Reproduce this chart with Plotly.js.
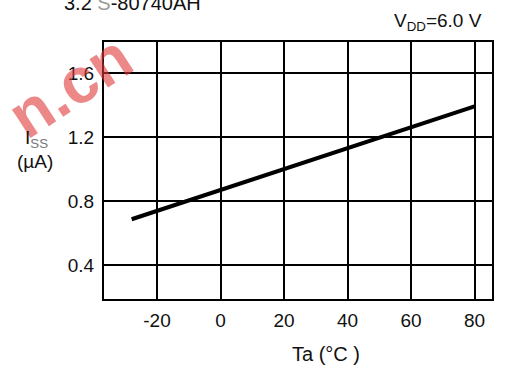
<!DOCTYPE html>
<html>
<head>
<meta charset="utf-8">
<script src="https://cdn.plot.ly/plotly-3.0.1.min.js"></script>
<style>
  html, body { margin: 0; padding: 0; background: #fff; }
  #chart { width: 507px; height: 370px; }
</style>
</head>
<body>
<div id="chart"></div>
<script>
// Data
const temperature = [-28, 80];          // Ta (°C)
const issCurrent = [0.686, 1.393];      // ISS (µA)
const xTickValues = [-20, 0, 20, 40, 60, 80];
const xTickLabels = ['-20', '0', '20', '40', '60', '80'];
const yTickValues = [0.4, 0.8, 1.2, 1.6];
const yTickLabels = ['0.4', '0.8', '1.2', '1.6'];

const FONT = 'Liberation Sans, Arial, sans-serif';

const trace = {
  x: temperature,
  y: issCurrent,
  type: 'scatter',
  mode: 'lines',
  line: { color: '#000', width: 4 },
  hoverinfo: 'none',
  showlegend: false
};

const px2x = px => (px - 104) / 388.5;
const py2y = py => (299 - py) / 256.7;

const layout = {
  width: 507,
  height: 370,
  margin: { l: 104, r: 14.5, t: 42.3, b: 71 },
  paper_bgcolor: '#fff',
  plot_bgcolor: '#fff',
  font: { family: FONT, size: 19, color: '#111' },
  xaxis: {
    range: [-36.7, 85.5],
    tickvals: xTickValues,
    ticktext: xTickLabels,
    showgrid: true,
    gridcolor: '#000',
    gridwidth: 2,
    zeroline: false,
    showline: true,
    linecolor: '#000',
    linewidth: 2,
    mirror: true,
    ticks: '',
    ticklabelstandoff: 3,
    tickfont: { family: FONT, size: 19, color: '#111' },
    fixedrange: true
  },
  yaxis: {
    range: [0.186, 1.797],
    tickvals: yTickValues,
    ticktext: yTickLabels,
    showgrid: true,
    gridcolor: '#000',
    gridwidth: 2,
    zeroline: false,
    showline: true,
    linecolor: '#000',
    linewidth: 2,
    mirror: true,
    ticks: '',
    ticklabelstandoff: 4,
    tickfont: { family: FONT, size: 19, color: '#111' },
    fixedrange: true
  },
  annotations: [
    {
      text: '<b>n.cn</b>', xref: 'paper', yref: 'paper',
      x: px2x(70), y: py2y(86),
      xanchor: 'center', yanchor: 'middle', showarrow: false,
      textangle: -33, opacity: 0.6,
      font: { family: FONT, size: 64, color: '#e03a3a' }
    },
    {
      text: '3.2 <span style="color:#9a9a9a">S</span>-80740AH', xref: 'paper', yref: 'paper',
      x: px2x(62), y: py2y(3),
      xanchor: 'left', yanchor: 'middle', showarrow: false,
      font: { family: FONT, size: 20, color: '#111' }
    },
    {
      text: 'V<sub>DD</sub>=6.0 V', xref: 'paper', yref: 'paper',
      x: px2x(484), y: py2y(22),
      xanchor: 'right', yanchor: 'middle', showarrow: false,
      font: { family: FONT, size: 19, color: '#111' }
    },
    {
      text: 'I<sub><span style="color:#777">SS</span></sub>', xref: 'paper', yref: 'paper',
      x: px2x(36), y: py2y(139),
      xanchor: 'center', yanchor: 'middle', showarrow: false,
      font: { family: FONT, size: 19, color: '#111' }
    },
    {
      text: '(µA)', xref: 'paper', yref: 'paper',
      x: px2x(35), y: py2y(162),
      xanchor: 'center', yanchor: 'middle', showarrow: false,
      font: { family: FONT, size: 19, color: '#111' }
    },
    {
      text: 'Ta (°C )', xref: 'paper', yref: 'paper',
      x: px2x(326.5), y: py2y(354),
      xanchor: 'center', yanchor: 'middle', showarrow: false,
      font: { family: FONT, size: 20, color: '#111' }
    }
  ]
};

Plotly.newPlot('chart', [trace], layout, { displayModeBar: false, staticPlot: true });
</script>
</body>
</html>
